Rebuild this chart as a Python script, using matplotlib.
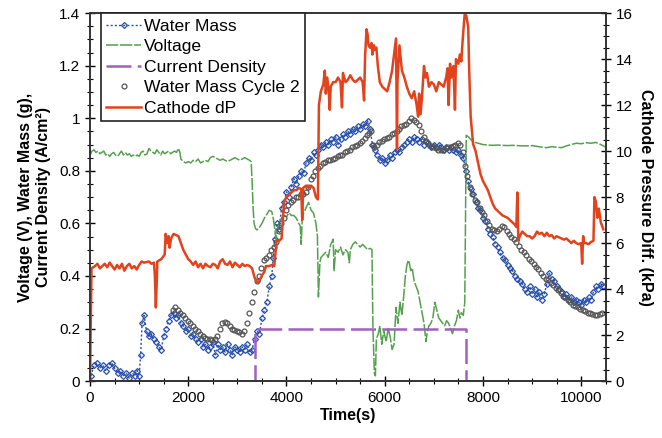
import numpy as np
import matplotlib.pyplot as plt
from matplotlib.ticker import MultipleLocator, FuncFormatter

plt.rcParams['font.family'] = ['Liberation Sans', 'DejaVu Sans']

# Water Mass (g), cycle 1
wm_t = [20, 80, 140, 200, 260, 320, 380, 440, 500, 560, 620, 680, 740, 800, 860, 920, 960, 1000,
        1030, 1060, 1100, 1150, 1200, 1250, 1300, 1350, 1400, 1450, 1500, 1550, 1600, 1650, 1700,
        1750, 1800, 1850, 1900, 1950, 2000, 2050, 2100, 2150, 2200, 2250, 2300, 2350, 2400, 2450,
        2500, 2550, 2600, 2650, 2700, 2750, 2800, 2850, 2900, 2950, 3000, 3050, 3100, 3150, 3200,
        3250, 3300, 3350, 3400, 3450, 3500, 3550, 3600, 3650, 3700, 3730, 3760, 3800, 3850, 3900,
        3950, 4000, 4050, 4100, 4150, 4200, 4250, 4300, 4350, 4400, 4450, 4500, 4550, 4600, 4650,
        4700, 4750, 4800, 4850, 4900, 4950, 5000, 5050, 5100, 5150, 5200, 5250, 5300, 5350, 5400,
        5450, 5500, 5550, 5600, 5650, 5700, 5750, 5800, 5850, 5900, 5950, 6000, 6050, 6100, 6150,
        6200, 6250, 6300, 6350, 6400, 6450, 6500, 6550, 6600, 6650, 6700, 6750, 6800, 6850, 6900,
        6950, 7000, 7050, 7100, 7150, 7200, 7250, 7300, 7350, 7400, 7450, 7500, 7550, 7600, 7650,
        7700, 7750, 7800, 7850, 7900, 7950, 8000, 8050, 8100, 8150, 8200, 8250, 8300, 8350, 8400,
        8450, 8500, 8550, 8600, 8650, 8700, 8750, 8800, 8850, 8900, 8950, 9000, 9050, 9100, 9150,
        9200, 9250, 9300, 9350, 9400, 9450, 9500, 9550, 9600, 9650, 9700, 9750, 9800, 9850, 9900,
        9950, 10000, 10050, 10100, 10150, 10200, 10250, 10300, 10350, 10400, 10450]
wm_v = [0.02, 0.06, 0.07, 0.05, 0.06, 0.04, 0.06, 0.07, 0.05, 0.03, 0.04, 0.02, 0.03, 0.01, 0.03, 0.02, 0.04, 0.02,
        0.10, 0.22, 0.25, 0.19, 0.17, 0.18, 0.16, 0.15, 0.13, 0.12, 0.17, 0.20, 0.23, 0.25, 0.26,
        0.24, 0.25, 0.22, 0.21, 0.19, 0.20, 0.17, 0.18, 0.16, 0.15, 0.16, 0.13, 0.14, 0.12, 0.13,
        0.15, 0.10, 0.14, 0.12, 0.13, 0.11, 0.14, 0.12, 0.10, 0.13, 0.12, 0.11, 0.13, 0.12, 0.14,
        0.11, 0.12, 0.16, 0.19, 0.18, 0.24, 0.27, 0.30, 0.36, 0.40, 0.47, 0.54, 0.60, 0.58, 0.66,
        0.68, 0.72, 0.70, 0.74, 0.77, 0.75, 0.78, 0.80, 0.79, 0.83, 0.85, 0.84, 0.87, 0.86, 0.88,
        0.90, 0.89, 0.91, 0.90, 0.92, 0.91, 0.93, 0.90, 0.92, 0.94, 0.93, 0.95, 0.94, 0.96, 0.95,
        0.97, 0.96, 0.98, 0.97, 0.99, 0.96, 0.90, 0.88, 0.86, 0.84, 0.85, 0.83, 0.84, 0.86, 0.85,
        0.87, 0.88, 0.87, 0.89, 0.90, 0.91, 0.92, 0.91, 0.93, 0.92, 0.91, 0.92, 0.90, 0.91, 0.90,
        0.89, 0.90, 0.89, 0.90, 0.89, 0.88, 0.89, 0.88, 0.89, 0.88, 0.87, 0.88, 0.86, 0.85, 0.80,
        0.76, 0.73, 0.71, 0.68, 0.66, 0.65, 0.62, 0.61, 0.58, 0.56, 0.55, 0.52, 0.51, 0.49, 0.47,
        0.46, 0.44, 0.43, 0.42, 0.40, 0.39, 0.38, 0.37, 0.35, 0.34, 0.36, 0.33, 0.35, 0.32, 0.34,
        0.31, 0.33, 0.37, 0.41, 0.39, 0.38, 0.36, 0.35, 0.34, 0.32, 0.33, 0.31, 0.32, 0.30, 0.31,
        0.30, 0.29, 0.31, 0.30, 0.32, 0.31, 0.34, 0.36, 0.35, 0.37, 0.36]

# Water Mass (g), cycle 2
wm2_t = [1690, 1740, 1790, 1840, 1890, 1940, 1990, 2040, 2090, 2140, 2190, 2240, 2290, 2340, 2390,
         2440, 2490, 2540, 2590, 2640, 2690, 2740, 2790, 2840, 2890, 2940, 2990, 3040, 3090, 3140,
         3190, 3240, 3290, 3340, 3390, 3440, 3490, 3540, 3590, 3640, 3690, 3740, 3790, 3840, 3890,
         3940, 3990, 4040, 4090, 4140, 4190, 4240, 4290, 4340, 4390, 4440, 4490, 4540, 4590, 4640,
         4690, 4740, 4790, 4840, 4890, 4940, 4990, 5040, 5090, 5140, 5190, 5240, 5290, 5340, 5390,
         5440, 5490, 5540, 5590, 5640, 5690, 5730, 5760, 5790, 5840, 5890, 5940, 5990, 6040, 6090,
         6140, 6190, 6240, 6290, 6340, 6390, 6440, 6490, 6540, 6590, 6640, 6690, 6740, 6790, 6840,
         6890, 6940, 6990, 7040, 7090, 7140, 7190, 7240, 7290, 7340, 7390, 7440, 7490, 7540, 7590,
         7630, 7680, 7730, 7780, 7830, 7880, 7930, 7980, 8030, 8080, 8130, 8180, 8230, 8280, 8330,
         8380, 8430, 8480, 8530, 8580, 8630, 8680, 8730, 8780, 8830, 8880, 8930, 8980, 9030, 9080,
         9130, 9180, 9230, 9280, 9330, 9380, 9430, 9480, 9530, 9580, 9630, 9680, 9730, 9780, 9830,
         9880, 9930, 9980, 10030, 10080, 10130, 10180, 10230, 10280, 10330, 10380, 10420]
wm2_v = [0.27, 0.28, 0.27, 0.26, 0.25, 0.24, 0.23, 0.22, 0.21, 0.20, 0.19, 0.18, 0.17, 0.165, 0.16,
         0.16, 0.155, 0.16, 0.17, 0.20, 0.22, 0.225, 0.22, 0.21, 0.20, 0.195, 0.19, 0.185, 0.18, 0.19,
         0.22, 0.26, 0.30, 0.34, 0.38, 0.40, 0.43, 0.46, 0.47, 0.48, 0.50, 0.51, 0.53, 0.57, 0.60,
         0.62, 0.65, 0.67, 0.68, 0.69, 0.70, 0.70, 0.71, 0.71, 0.72, 0.74, 0.77, 0.78, 0.80, 0.81,
         0.82, 0.83, 0.835, 0.84, 0.84, 0.845, 0.85, 0.855, 0.86, 0.86, 0.87, 0.875, 0.88, 0.89, 0.895,
         0.90, 0.905, 0.915, 0.925, 0.935, 0.945, 0.95, 0.90, 0.89, 0.90, 0.91, 0.915, 0.92, 0.925, 0.93,
         0.94, 0.945, 0.95, 0.96, 0.97, 0.975, 0.98, 0.99, 1.0, 0.995, 0.985, 0.975, 0.95, 0.93, 0.915,
         0.905, 0.895, 0.89, 0.885, 0.88, 0.88, 0.88, 0.885, 0.89, 0.89, 0.895, 0.90, 0.905, 0.90, 0.87,
         0.82, 0.78, 0.74, 0.71, 0.69, 0.68, 0.66, 0.645, 0.63, 0.61, 0.595, 0.58, 0.575, 0.57, 0.58,
         0.59, 0.585, 0.57, 0.56, 0.55, 0.54, 0.53, 0.515, 0.50, 0.49, 0.48, 0.465, 0.455, 0.445, 0.435,
         0.425, 0.41, 0.40, 0.39, 0.385, 0.375, 0.365, 0.355, 0.345, 0.335, 0.325, 0.32, 0.31, 0.30, 0.29,
         0.285, 0.28, 0.275, 0.27, 0.265, 0.26, 0.258, 0.255, 0.25, 0.25, 0.255, 0.26]

# Voltage (V)
volt_t = [0, 40, 80, 120, 160, 200, 240, 280, 320, 360, 400, 440, 480, 520, 560, 600, 640, 680, 720,
          760, 800, 840, 880, 920, 960, 1000, 1040, 1080, 1120, 1160, 1200, 1240, 1280, 1320, 1360,
          1400, 1440, 1480, 1520, 1560, 1600, 1640, 1680, 1720, 1760, 1800, 1830, 1850, 1900, 1950,
          2000, 2050, 2100, 2150, 2200, 2250, 2300, 2350, 2400, 2450, 2500, 2550, 2600, 2650, 2700,
          2750, 2800, 2850, 2900, 2950, 3000, 3050, 3100, 3150, 3200, 3250, 3280, 3300, 3320, 3340,
          3370, 3400, 3450, 3500, 3550, 3600, 3650, 3700, 3730, 3760, 3790, 3820, 3850, 3900, 3950,
          4000, 4050, 4100, 4150, 4200, 4250, 4280, 4300, 4320, 4350, 4400, 4450, 4500, 4550, 4600,
          4630, 4650, 4680, 4700, 4750, 4800, 4850, 4900, 4930, 4950, 4970, 5000, 5050, 5100, 5150,
          5200, 5250, 5280, 5300, 5350, 5400, 5450, 5500, 5550, 5600, 5650, 5700, 5740, 5760, 5790,
          5810, 5830, 5870, 5900, 5940, 5980, 6030, 6070, 6110, 6150, 6190, 6230, 6270, 6310, 6350,
          6390, 6420, 6450, 6480, 6500, 6530, 6560, 6600, 6640, 6680, 6720, 6760, 6800, 6840, 6870,
          6900, 6940, 6980, 7020, 7060, 7100, 7140, 7180, 7220, 7260, 7300, 7340, 7380, 7420, 7460,
          7500, 7530, 7560, 7600, 7630, 7660, 7700, 7750, 7800, 7900, 8000, 8100, 8200, 8300, 8400,
          8500, 8600, 8700, 8800, 8900, 9000, 9100, 9200, 9300, 9400, 9500, 9600, 9700, 9800, 9900,
          10000, 10100, 10200, 10300, 10400, 10500]
volt_v = [0.86, 0.875, 0.88, 0.87, 0.875, 0.865, 0.87, 0.875, 0.86, 0.865, 0.855, 0.865, 0.87, 0.86, 0.855,
          0.865, 0.875, 0.86, 0.87, 0.86, 0.865, 0.855, 0.86, 0.855, 0.86, 0.855, 0.87, 0.875, 0.86, 0.865,
          0.885, 0.875, 0.87, 0.865, 0.88, 0.87, 0.86, 0.875, 0.865, 0.87, 0.875, 0.865, 0.87, 0.875, 0.87,
          0.885, 0.87, 0.845, 0.835, 0.83, 0.835, 0.83, 0.84, 0.835, 0.845, 0.83, 0.835, 0.84, 0.835, 0.85,
          0.855, 0.85, 0.845, 0.84, 0.845, 0.84, 0.835, 0.84, 0.845, 0.85, 0.845, 0.84, 0.845, 0.85, 0.845,
          0.84, 0.835, 0.76, 0.66, 0.60, 0.58, 0.575, 0.585, 0.60, 0.62, 0.635, 0.65, 0.645, 0.62, 0.58,
          0.54, 0.58, 0.60, 0.62, 0.63, 0.625, 0.64, 0.63, 0.63, 0.62, 0.60, 0.59, 0.52, 0.62, 0.64,
          0.66, 0.68, 0.65, 0.64, 0.60, 0.55, 0.32, 0.45, 0.47, 0.48, 0.49, 0.47, 0.52, 0.53, 0.54,
          0.42, 0.50, 0.49, 0.51, 0.48, 0.50, 0.49, 0.45, 0.50, 0.52, 0.53, 0.52, 0.51, 0.52, 0.51,
          0.50, 0.505, 0.50, 0.20, 0.03, 0.02, 0.16, 0.18, 0.21, 0.14, 0.19, 0.15, 0.20, 0.17, 0.12,
          0.14, 0.28, 0.22, 0.30, 0.25, 0.33, 0.40, 0.44, 0.46, 0.45, 0.42, 0.43, 0.38, 0.36, 0.34,
          0.30, 0.26, 0.22, 0.15, 0.19, 0.21, 0.22, 0.24, 0.30, 0.27, 0.24, 0.23, 0.22, 0.21, 0.23,
          0.22, 0.20, 0.18, 0.21, 0.23, 0.27, 0.24, 0.26, 0.25, 0.30, 0.935, 0.93, 0.92, 0.91, 0.905,
          0.90, 0.898, 0.897, 0.898, 0.897, 0.896, 0.897, 0.896, 0.895, 0.895, 0.896, 0.893, 0.89, 0.888, 0.892,
          0.89, 0.888, 0.895, 0.90, 0.905, 0.903, 0.907, 0.905, 0.908, 0.90, 0.89]

# Current Density (A/cm2)
cd_t = [0, 3350, 3350, 7650, 7650, 10500]
cd_v = [0, 0, 0.2, 0.2, 0, 0]

# Cathode dP (kPa)
dp_t = [0, 30, 100, 150, 200, 300, 350, 400, 500, 550, 600, 650, 700, 750, 800, 850, 900, 950, 1000,
        1050, 1100, 1200, 1250, 1300, 1320, 1340, 1360, 1370, 1450, 1520, 1540, 1570, 1600, 1620, 1650,
        1700, 1750, 1800, 1850, 1900, 1950, 2000, 2050, 2100, 2150, 2200, 2250, 2300, 2350, 2400, 2450,
        2500, 2550, 2600, 2650, 2700, 2750, 2800, 2850, 2900, 2950, 3000, 3050, 3100, 3150, 3200, 3250,
        3300, 3350, 3400, 3450, 3500, 3550, 3580, 3650, 3700, 3750, 3800, 3850, 3900, 3950, 4000, 4050,
        4100, 4150, 4200, 4250, 4300, 4320, 4340, 4400, 4450, 4500, 4550, 4600, 4640, 4660, 4700, 4750,
        4780, 4800, 4830, 4860, 4880, 4900, 4950, 5000, 5050, 5100, 5130, 5150, 5200, 5250, 5300, 5350,
        5400, 5450, 5500, 5550, 5580, 5600, 5630, 5650, 5670, 5700, 5730, 5750, 5780, 5800, 5830, 5860,
        5900, 5950, 6000, 6050, 6100, 6150, 6200, 6230, 6250, 6260, 6300, 6350, 6400, 6450, 6500, 6550,
        6600, 6650, 6680, 6700, 6730, 6760, 6800, 6830, 6860, 6900, 6950, 7000, 7050, 7100, 7150, 7200,
        7250, 7280, 7300, 7330, 7360, 7400, 7430, 7450, 7500, 7530, 7560, 7580, 7600, 7630, 7660, 7700,
        7720, 7750, 7780, 7800, 7850, 7900, 7950, 8000, 8050, 8100, 8150, 8200, 8250, 8300, 8350, 8400,
        8450, 8500, 8550, 8600, 8650, 8680, 8700, 8720, 8750, 8800, 8850, 8900, 8950, 9000, 9050, 9100,
        9150, 9200, 9250, 9300, 9350, 9400, 9450, 9500, 9550, 9600, 9650, 9700, 9750, 9800, 9850, 9900,
        9950, 10000, 10020, 10040, 10060, 10100, 10150, 10200, 10250, 10270, 10300, 10330, 10360, 10400, 10450]
dp_v = [0, 4.9, 5.0, 5.1, 4.9, 5.1, 4.95, 5.15, 4.85, 5.05, 4.9, 5.1, 4.8, 5.0, 5.1, 4.9, 5.0, 4.85, 5.05,
        5.2, 5.15, 5.2, 5.1, 5.15, 4.6, 3.2, 4.4, 5.2, 5.3, 5.5, 6.4, 6.0, 6.3, 5.8, 6.2,
        6.4, 6.35, 6.3, 6.0, 5.7, 5.5, 5.3, 5.2, 5.05, 5.2, 4.95, 5.1, 4.9, 5.1, 5.0, 4.95,
        5.1, 5.05, 4.9, 5.2, 5.3, 5.1, 5.05, 5.2, 4.95, 5.15, 5.05, 4.95, 5.1, 5.0, 5.05, 5.0,
        4.9, 4.5, 4.3, 4.35, 4.6, 4.75, 5.0, 5.0, 5.05, 5.0, 6.1, 6.1, 6.2, 7.8, 8.0, 8.1,
        8.2, 8.3, 8.3, 8.4, 8.35, 7.0, 8.4, 8.5, 8.4, 8.5, 8.4, 8.0, 7.9, 12.0, 12.6, 12.9,
        13.5, 12.5, 13.2, 12.6, 11.8, 12.8, 13.0, 13.0, 13.2, 13.0, 11.9, 13.4, 13.0, 13.1, 13.3, 13.1,
        13.0, 13.1, 13.2, 13.0, 12.2, 14.1, 15.3, 15.1, 14.6, 14.5, 14.7, 14.2, 14.6, 14.4, 14.5, 13.7,
        13.0, 12.8, 12.7, 12.6, 13.0, 13.5, 14.4, 14.9, 10.1, 13.0, 14.6, 13.5, 13.2, 12.8, 12.5, 12.3,
        12.6, 12.0, 11.5, 12.5, 11.6, 12.4, 13.7, 13.2, 13.4, 12.8, 13.0, 12.9, 12.6, 13.0, 12.9, 12.8,
        13.2, 13.6, 12.0, 13.8, 13.2, 13.7, 11.8, 14.0, 13.8, 14.2, 13.9, 14.6, 15.2, 16.0, 15.9, 15.4,
        13.5, 11.5, 10.8, 10.3, 10.0, 9.5, 9.0, 8.7, 8.5, 8.3, 8.0, 7.7, 7.5, 7.4, 7.3, 7.2,
        7.15, 7.1, 7.0, 6.9, 6.8, 6.7, 8.2, 6.1, 6.3, 6.5, 6.4, 6.3, 6.3, 6.2, 6.3, 6.5,
        6.4, 6.45, 6.3, 6.45, 6.3, 6.35, 6.2, 6.3, 6.25, 6.2, 6.15, 6.2, 6.1, 6.0, 6.1, 6.0,
        5.95, 6.0, 5.1, 6.3, 6.0, 6.0, 5.95, 6.05, 6.1, 8.0, 7.8, 7.1, 7.5, 6.9, 6.6]

fig = plt.figure(figsize=(6.62, 4.38), dpi=100)
ax = fig.add_axes([0.136, 0.130, 0.779, 0.840])
ax2 = ax.twinx()

l1, = ax.plot(wm_t, wm_v, color='#2850ac', linestyle=(0, (1.5, 1.5)), linewidth=1,
              marker='D', markersize=3.0, markerfacecolor='none', markeredgewidth=0.9,
              label='Water Mass')
l2, = ax.plot(volt_t, volt_v, color='#55a04e', linestyle=(0, (8, 1.2)), linewidth=1.1,
              label='Voltage')
l3, = ax.plot(cd_t, cd_v, color='#a060c0', linestyle=(0, (10, 2.5)), linewidth=1.8,
              label='Current Density')
l4, = ax.plot(wm2_t, wm2_v, linestyle='none', marker='o', markersize=3.5,
              markerfacecolor='none', markeredgecolor='#555555', markeredgewidth=0.9,
              label='Water Mass Cycle 2')
l5, = ax2.plot(dp_t, dp_v, color='#e2431c', linewidth=1.8, label='Cathode dP')

ax.set_xlim(0, 10500)
ax.set_ylim(0, 1.4)
ax2.set_ylim(0, 16)

ax.xaxis.set_major_locator(MultipleLocator(2000))
ax.xaxis.set_minor_locator(MultipleLocator(500))
ax.yaxis.set_major_locator(MultipleLocator(0.2))
ax.yaxis.set_minor_locator(MultipleLocator(0.05))
ax.yaxis.set_major_formatter(FuncFormatter(lambda v, p: '%g' % round(v, 2)))
ax2.yaxis.set_major_locator(MultipleLocator(2))
ax2.yaxis.set_minor_locator(MultipleLocator(0.5))

for a in (ax, ax2):
    a.tick_params(which='major', direction='inout', length=7, width=1, labelsize=11)
    a.tick_params(which='minor', direction='inout', length=4, width=0.8)
    for s in a.spines.values():
        s.set_linewidth(1.2)
        s.set_color('#333333')

ax.set_xlabel('Time(s)', fontweight='bold', fontsize=11.5, labelpad=2)
ax.set_ylabel('Voltage (V), Water Mass (g),\nCurrent Density (A/cm²)', fontweight='bold',
              fontsize=11.5, labelpad=6)
ax2.set_ylabel('Cathode Pressure Diff. (kPa)', fontweight='bold', fontsize=11.5,
               rotation=270, labelpad=15)

leg = ax2.legend(handles=[l1, l2, l3, l4, l5], loc='upper left', bbox_to_anchor=(0.021, 1.0),
                 borderaxespad=0, fancybox=False, edgecolor='#222222', framealpha=1,
                 fontsize=12.6, handlelength=2.0, handletextpad=0.15, labelspacing=0.3,
                 borderpad=0.3)
leg.get_frame().set_linewidth(1.2)

fig.savefig('out.png', dpi=100)
